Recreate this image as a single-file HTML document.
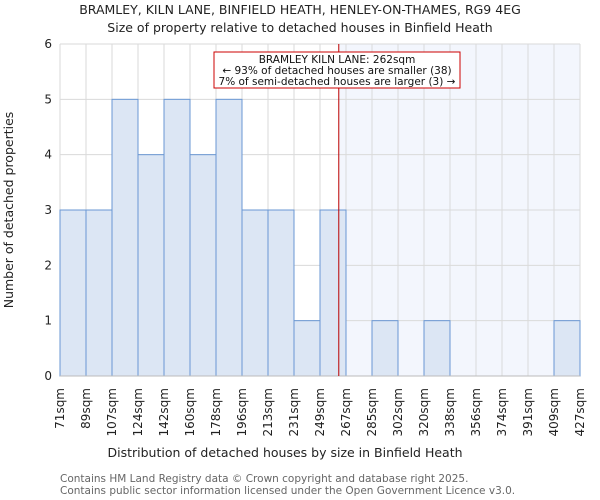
<!DOCTYPE html>
<html><head><meta charset="utf-8"><style>
body{margin:0;background:#fff;}
svg{display:block;font-family:"DejaVu Sans","Liberation Sans",sans-serif;}
</style></head><body>
<svg id="chart" width="600" height="500">
<text x="300" y="14" text-anchor="middle" font-size="12.5" fill="#222">BRAMLEY, KILN LANE, BINFIELD HEATH, HENLEY-ON-THAMES, RG9 4EG</text>
<text x="300" y="32" text-anchor="middle" font-size="12.5" fill="#222">Size of property relative to detached houses in Binfield Heath</text>
<g id="plot"></g>
<text x="285" y="457" text-anchor="middle" font-size="12.5" fill="#222">Distribution of detached houses by size in Binfield Heath</text>
<text transform="translate(13,210) rotate(-90)" text-anchor="middle" font-size="12.5" fill="#222">Number of detached properties</text>
<text x="60" y="482" font-size="10.5" fill="#666">Contains HM Land Registry data © Crown copyright and database right 2025.</text>
<text x="60" y="494" font-size="10.5" fill="#666">Contains public sector information licensed under the Open Government Licence v3.0.</text>
</svg>
<script>
const binLabels=["71sqm","89sqm","107sqm","124sqm","142sqm","160sqm","178sqm","196sqm","213sqm","231sqm","249sqm","267sqm","285sqm","302sqm","320sqm","338sqm","356sqm","374sqm","391sqm","409sqm","427sqm"];
const binEdges=[71,89,107,124,142,160,178,196,213,231,249,267,285,302,320,338,356,374,391,409,427];
const counts=[3,3,5,4,5,4,5,3,3,1,3,0,1,0,1,0,0,0,0,1];
const yTicks=[0,1,2,3,4,5,6];
const subjectSize=262;
const X0=60,X1=580,Y0=376,Y1=44,YMAX=6;
const NS="http://www.w3.org/2000/svg";
const g=document.getElementById('plot');
function xIdx(i){return X0+(X1-X0)*i/counts.length;}
function xVal(v){let i=0;while(i<binEdges.length-2&&v>binEdges[i+1])i++;return xIdx(i)+(xIdx(i+1)-xIdx(i))*(v-binEdges[i])/(binEdges[i+1]-binEdges[i]);}
function y(v){return Y0-(Y0-Y1)*v/YMAX;}
function mk(t,a){const e=document.createElementNS(NS,t);for(const k in a)e.setAttribute(k,a[k]);g.appendChild(e);return e;}
const sx=xVal(subjectSize);
let e=mk('rect',{x:sx,y:Y1,width:X1-sx,height:Y0-Y1,fill:'#f3f6fd'});


yTicks.forEach(t=>{
 let l=mk('line',{x1:X0,x2:X1,y1:y(t),y2:y(t),stroke:'#dadada','stroke-width':1});
 
 
 let tx=mk('text',{x:X0-8,y:y(t)+4,'text-anchor':'end','font-size':12,fill:'#222'});
 tx.textContent=t;
 
 
});
for(let i=0;i<=counts.length;i++){
 let l=mk('line',{x1:xIdx(i),x2:xIdx(i),y1:Y1,y2:Y0,stroke:'#dadada','stroke-width':1});
 
 
}
counts.forEach((c,i)=>{
 if(c<=0)return;
 let r=mk('rect',{x:xIdx(i),y:y(c),width:xIdx(i+1)-xIdx(i),height:Y0-y(c),fill:'#dce6f4',stroke:'#6a97d3','stroke-width':1});
 
 
});
let ax=mk('line',{x1:X0,x2:X1,y1:Y0,y2:Y0,stroke:'#bbb','stroke-width':1});


binLabels.forEach((s,i)=>{
 const xx=xIdx(i)+4;
 let t=mk('text',{transform:`translate(${xx},388) rotate(-90)`,'text-anchor':'end','font-size':12,fill:'#222'});
 t.textContent=s;
 
 
});
let rl=mk('line',{x1:sx,x2:sx,y1:Y1,y2:Y0,stroke:'#b00','stroke-width':1});


let box=mk('rect',{x:214,y:52,width:246,height:36,fill:'#fff',stroke:'#c00','stroke-width':1});


["BRAMLEY KILN LANE: 262sqm","← 93% of detached houses are smaller (38)","7% of semi-detached houses are larger (3) →"].forEach((s,i)=>{
 let t=mk('text',{x:337,y:63+i*11,'text-anchor':'middle','font-size':10.5,'textLength':i==0?0:0,fill:'#111'});
 t.removeAttribute('textLength');
 t.textContent=s;
 
 
});
</script>
</body></html>
